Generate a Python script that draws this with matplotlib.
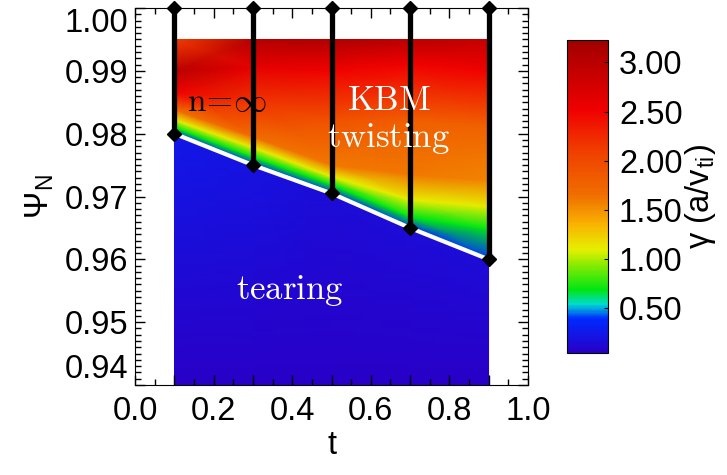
import numpy as np
import matplotlib
matplotlib.use('Agg')
import matplotlib.pyplot as plt
from matplotlib.colors import LinearSegmentedColormap
from matplotlib.ticker import MultipleLocator, FuncFormatter

plt.rcParams['font.family'] = ['Liberation Sans', 'DejaVu Sans']
plt.rcParams['mathtext.fontset'] = 'cm'

# scan points in t, with the marginal-stability boundary in psi_N
t_cols = [0.1, 0.3, 0.5, 0.7, 0.9]
psi_bound = [0.980, 0.975, 0.9705, 0.965, 0.960]
psi_top = 1.0

# psi_N rows for each column (bottom -> top), growth rate gamma at each node
psi_col1 = [0.940, 0.9797, 0.9800, 0.9810, 0.9822, 0.9838, 0.9865, 0.9900, 0.9950]
psi_col2 = [0.940, 0.9747, 0.9750, 0.9763, 0.9778, 0.9795, 0.9855, 0.9906, 0.9950]
psi_col3 = [0.940, 0.9702, 0.9705, 0.9719, 0.9732, 0.9750, 0.9820, 0.9900, 0.9950]
psi_col4 = [0.940, 0.9647, 0.9650, 0.9668, 0.9695, 0.9735, 0.9822, 0.9910, 0.9950]
psi_col5 = [0.940, 0.9597, 0.9600, 0.9648, 0.9684, 0.9725, 0.9810, 0.9900, 0.9950]

gam_col1 = [0.04, 0.25, 0.40, 0.68, 1.10, 1.65, 2.50, 3.00, 2.10]
gam_col2 = [0.04, 0.20, 0.40, 0.68, 1.10, 1.65, 2.20, 2.60, 3.05]
gam_col3 = [0.04, 0.15, 0.40, 0.68, 1.10, 1.60, 1.90, 2.50, 3.10]
gam_col4 = [0.04, 0.15, 0.40, 0.68, 1.10, 1.60, 1.80, 2.50, 3.00]
gam_col5 = [0.04, 0.15, 0.40, 0.68, 1.10, 1.55, 1.75, 2.50, 2.90]

cb_ticks = [0.5, 1.0, 1.5, 2.0, 2.5, 3.0]
vmin, vmax = 0.04, 3.23

# IDL-like rainbow
cmap = LinearSegmentedColormap.from_list('idl_rainbow', [
    (0.000, (0.16, 0.00, 0.78)),
    (0.107, (0.00, 0.16, 1.00)),
    (0.154, (0.00, 0.86, 0.82)),
    (0.200, (0.00, 0.90, 0.08)),
    (0.282, (0.55, 0.92, 0.00)),
    (0.329, (0.90, 0.94, 0.00)),
    (0.410, (0.98, 0.70, 0.00)),
    (0.505, (0.94, 0.43, 0.00)),
    (0.649, (0.94, 0.24, 0.00)),
    (0.777, (0.94, 0.00, 0.00)),
    (1.000, (0.63, 0.00, 0.00)),
])

psi_grid = np.array([psi_col1, psi_col2, psi_col3, psi_col4, psi_col5]).T
gam_grid = np.array([gam_col1, gam_col2, gam_col3, gam_col4, gam_col5]).T
t_grid = np.tile(t_cols, (psi_grid.shape[0], 1))

fs = 23.5

fig = plt.figure(figsize=(7.27, 4.75), dpi=100)
ax = fig.add_axes([0.186, 0.1895, 0.540, 0.7935])
cax = fig.add_axes([0.780, 0.257, 0.056, 0.659])

mesh = ax.pcolormesh(t_grid, psi_grid, gam_grid, shading='gouraud',
                     cmap=cmap, vmin=vmin, vmax=vmax)

ax.plot(t_cols, psi_bound, color='white', lw=3, zorder=3)
for t, pb in zip(t_cols, psi_bound):
    ax.plot([t, t], [pb, psi_top], color='black', lw=3.8, zorder=4,
            marker='D', ms=7.5, clip_on=False)

ax.text(0.233, 0.9849, r'$\mathrm{n\!=\!\infty}$', fontsize=24,
        ha='center', va='center', zorder=6)
ax.text(0.646, 0.9822, r'$\mathrm{KBM}$' + '\n' + r'$\mathrm{twisting}$', fontsize=25,
        color='white', ha='center', va='center', linespacing=1.15, zorder=6)
ax.text(0.394, 0.9551, r'$\mathrm{tearing}$', fontsize=25, color='white',
        ha='center', va='center', zorder=6)

ax.set_xlim(0.0, 1.0)
ax.set_ylim(0.94, 1.0)
ax.xaxis.set_major_locator(MultipleLocator(0.1))
ax.xaxis.set_minor_locator(MultipleLocator(0.05))
ax.xaxis.set_major_formatter(FuncFormatter(
    lambda v, p: '%.1f' % v if round(v * 10) % 2 == 0 else ''))
ax.yaxis.set_major_locator(MultipleLocator(0.01))
ax.yaxis.set_minor_locator(MultipleLocator(0.001))
ax.yaxis.set_major_formatter(FuncFormatter(lambda v, p: '%.2f' % v))
ax.tick_params(which='both', direction='in', top=True, right=True, labelsize=fs)
ax.tick_params(which='major', length=7, width=1)
ax.tick_params(which='minor', length=4, width=1)
ax.tick_params(axis='x', pad=8)
ax.tick_params(axis='y', pad=5)
ax.set_xlabel('t', fontsize=fs, labelpad=2)
ax.set_ylabel('Ψ$_\\mathregular{N}$', fontsize=fs, labelpad=6)

cb = fig.colorbar(mesh, cax=cax, ticks=cb_ticks)
cb.ax.yaxis.set_major_formatter(FuncFormatter(lambda v, p: '%.2f' % v))
cb.ax.tick_params(labelsize=fs, length=3, direction='in', pad=8)
cb.set_label('γ (a/v$_\\mathregular{ti}$)', fontsize=fs, labelpad=0)

# keep end labels inside the frame, as in the original
fig.canvas.draw()
for lab in ax.get_yticklabels():
    if lab.get_text() == '1.00':
        lab.set_va('top')
    elif lab.get_text() == '0.94':
        lab.set_va('bottom')

fig.savefig('out.png', dpi=100)
